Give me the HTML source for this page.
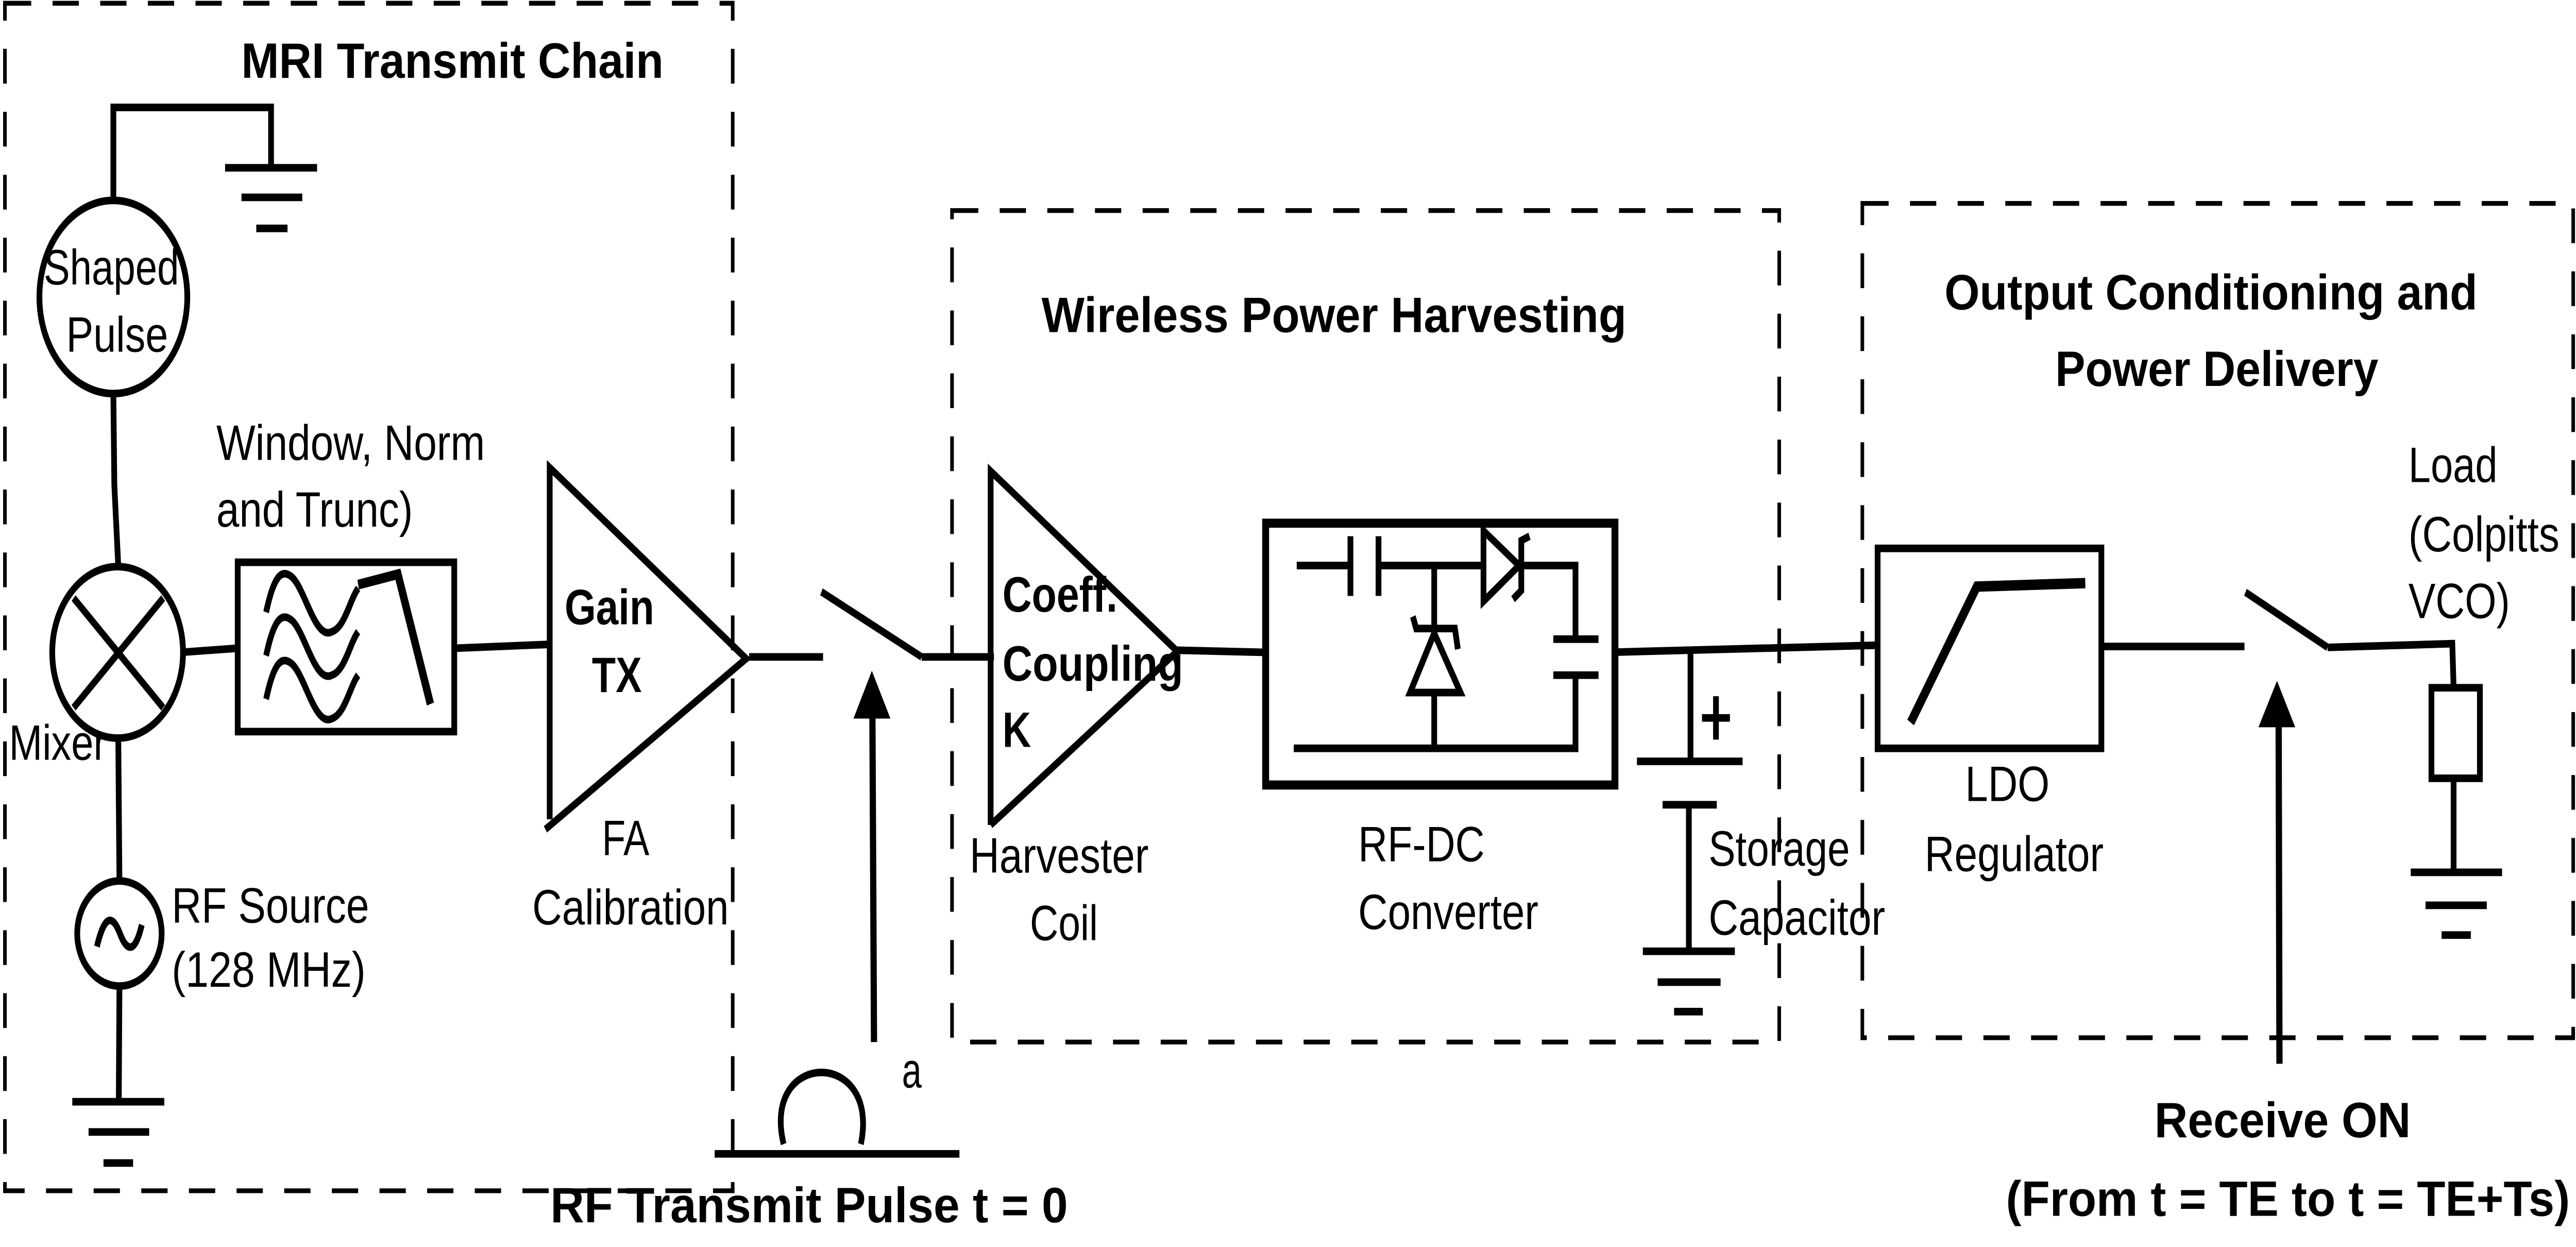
<!DOCTYPE html>
<html><head><meta charset="utf-8"><style>
html,body{margin:0;padding:0;background:#fff;width:100%;height:100%;overflow:hidden;}
svg{display:block;width:100vw;height:100vh;}
text{font-family:"Liberation Sans",Arial,sans-serif;fill:#000;}
.b{font-weight:bold;}
.n{font-family:"Liberation Sans Narrow","Liberation Sans",sans-serif;}
</style></head><body>
<svg xmlns="http://www.w3.org/2000/svg" viewBox="0 0 1568 574.4" preserveAspectRatio="none">
<rect x="0" y="0" width="1568" height="574.4" fill="#fff"/>
<g fill="none" stroke="#000" stroke-width="2.2" stroke-dasharray="16 13">
<rect x="3" y="1.5" width="443" height="547"/>
<rect x="579.5" y="97" width="503.5" height="383"/>
<rect x="1133.6" y="93.7" width="432.7" height="384.3"/>
</g>
<g fill="none" stroke="#000" stroke-width="3.5" stroke-linejoin="miter">
<polyline points="69,92 69,49.5 165,49.5 165,77.3"/>
<line x1="137" y1="77.3" x2="193" y2="77.3"/>
<line x1="147" y1="90.9" x2="184" y2="90.9"/>
<line x1="156" y1="105.2" x2="175" y2="105.2"/>
<ellipse cx="69" cy="136.8" rx="45" ry="44.5"/>
<polyline points="69,181.3 69.6,223.5 72,261"/>
<ellipse cx="71.6" cy="300.5" rx="39.8" ry="39.5"/>
<line x1="44.8" y1="275.5" x2="99.3" y2="326"/>
<line x1="44.8" y1="326" x2="99.3" y2="275.5"/>
<line x1="111.4" y1="300.4" x2="144.7" y2="298.6"/>
<rect x="144.7" y="259" width="131.8" height="78"/>
<path d="M162,282 C167,264 172,262 178,266 C186,272 192,295 202,291 C210,289 213,276 218,271"/>
<path d="M162,302 C167,284 172,282 178,286 C186,292 192,315 202,311 C210,309 213,296 218,291"/>
<path d="M162,322 C167,304 172,302 178,306 C186,312 192,335 202,331 C210,329 213,316 218,311"/>
<polyline points="218,269.3 242.2,264.5 262,324.3" stroke-width="4.5"/>
<line x1="276.5" y1="298.6" x2="334.6" y2="296.8"/>
<polyline points="334.6,377.4 334.6,215.4 454.2,303.4 332,382"/>
<line x1="72" y1="340" x2="72.7" y2="406"/>
<ellipse cx="72.7" cy="430" rx="25.7" ry="24.2"/>
<path d="M59,436 C64,420 69,422 73,430 C77,438 82,440 86.3,426"/>
<line x1="72.7" y1="454.3" x2="72.3" y2="507.5"/>
<line x1="44" y1="507.5" x2="100" y2="507.5"/>
<line x1="53.9" y1="521.4" x2="90.8" y2="521.4"/>
<line x1="63" y1="535.7" x2="81" y2="535.7"/>
<line x1="456" y1="302.6" x2="501" y2="302.6"/>
<line x1="500" y1="272.6" x2="561" y2="302.6"/>
<line x1="561" y1="302.6" x2="605" y2="302.6"/>
<line x1="532" y1="480" x2="531" y2="325" stroke-width="3.8"/>
<path d="M477,527 C470,505 485,494 500,494 C515,494 530,505 524,527"/>
<line x1="435" y1="531.5" x2="584" y2="531.5"/>
<polyline points="603,380 603,217 716.6,300 603,380"/>
<line x1="716.6" y1="299.5" x2="770.4" y2="300.5"/>
<rect x="770.4" y="241" width="212.6" height="120.6" stroke-width="4.2"/>
<line x1="789.3" y1="260.5" x2="822" y2="260.5"/>
<line x1="822" y1="247" x2="822" y2="274.5"/>
<line x1="839.1" y1="247" x2="839.1" y2="274.5"/>
<line x1="839.1" y1="260.5" x2="903" y2="260.5"/>
<polygon points="903,244.5 903,277 924.7,260.5"/>
<polyline points="931,247 926,249 926,272 921,276"/>
<polyline points="926,260.5 959,260.5 959,294.4"/>
<line x1="945.5" y1="294.4" x2="973" y2="294.4"/>
<line x1="945.5" y1="311" x2="973" y2="311"/>
<polyline points="959,311 959,344.7 787.5,344.7"/>
<line x1="873" y1="260.5" x2="873" y2="289.5"/>
<polygon points="873,291.7 858.3,319 889,319"/>
<polyline points="860,284 862,289.5 885.6,289.5 887.4,299"/>
<line x1="873" y1="319" x2="873" y2="344.7"/>
<line x1="983" y1="300.4" x2="1142.9" y2="297.2"/>
<line x1="1029" y1="300.5" x2="1029" y2="350.7"/>
<line x1="996.4" y1="350.7" x2="1060.7" y2="350.7"/>
<line x1="1036" y1="330.7" x2="1053" y2="330.7"/>
<line x1="1044.5" y1="320.7" x2="1044.5" y2="340.7"/>
<line x1="1012" y1="370.7" x2="1045" y2="370.7"/>
<line x1="1028" y1="370.7" x2="1028" y2="438.2"/>
<line x1="1000" y1="438.2" x2="1056" y2="438.2"/>
<line x1="1009" y1="452.4" x2="1047.3" y2="452.4"/>
<line x1="1019" y1="466" x2="1036.5" y2="466"/>
<rect x="1142.9" y="252.6" width="136.2" height="92.1"/>
<polyline points="1163,332.8 1203.3,270.2 1269.3,268.6" stroke-width="4.8"/>
<line x1="1279.1" y1="297.8" x2="1366.2" y2="297.8"/>
<line x1="1366.8" y1="272.8" x2="1416.8" y2="298.2"/>
<polyline points="1416.8,298.2 1492.7,296.5 1493.5,316.8"/>
<rect x="1480" y="316.8" width="29.5" height="41.7"/>
<line x1="1493.5" y1="358.5" x2="1493.5" y2="401.8"/>
<line x1="1467.4" y1="401.8" x2="1523" y2="401.8"/>
<line x1="1476.4" y1="417" x2="1513.7" y2="417"/>
<line x1="1486.2" y1="430.7" x2="1504" y2="430.7"/>
<line x1="1387.5" y1="490" x2="1387" y2="331" stroke-width="3.8"/>
</g>
<polygon points="530.7,309 519.5,331 542,331" fill="#000"/>
<polygon points="1386,313.6 1374.7,335 1397.1,335" fill="#000"/>
<g font-size="23">
<text class="b" x="146.9" y="35.9" textLength="257" lengthAdjust="spacingAndGlyphs">MRI Transmit Chain</text>
<text x="26.6" y="131" textLength="82.4" lengthAdjust="spacingAndGlyphs">Shaped</text>
<text x="40.3" y="162" textLength="62" lengthAdjust="spacingAndGlyphs">Pulse</text>
<text x="131.7" y="211.8" textLength="163.5" lengthAdjust="spacingAndGlyphs">Window, Norm</text>
<text x="131.7" y="242.6" textLength="119.6" lengthAdjust="spacingAndGlyphs">and Trunc)</text>
<text x="5.5" y="350" textLength="59.5" lengthAdjust="spacingAndGlyphs">Mixer</text>
<text class="b" x="343.7" y="287.6" textLength="54.5" lengthAdjust="spacingAndGlyphs">Gain</text>
<text class="b" x="360.3" y="318.8" textLength="30.3" lengthAdjust="spacingAndGlyphs">TX</text>
<text x="366.4" y="393.9" textLength="28.8" lengthAdjust="spacingAndGlyphs">FA</text>
<text x="324" y="425.8" textLength="119.6" lengthAdjust="spacingAndGlyphs">Calibration</text>
<text x="104.5" y="425" textLength="120.2" lengthAdjust="spacingAndGlyphs">RF Source</text>
<text x="104.5" y="454.5" textLength="118.1" lengthAdjust="spacingAndGlyphs">(128 MHz)</text>
<text x="549" y="501" textLength="12" lengthAdjust="spacingAndGlyphs">a</text>
<text class="b" x="335" y="563" textLength="315" lengthAdjust="spacingAndGlyphs">RF Transmit Pulse t = 0</text>
<text class="b" x="634" y="153" textLength="356" lengthAdjust="spacingAndGlyphs">Wireless Power Harvesting</text>
<text class="b n" x="610.2" y="281.7" textLength="70" lengthAdjust="spacingAndGlyphs">Coeff.</text>
<text class="b n" x="610.2" y="313.5" textLength="110" lengthAdjust="spacingAndGlyphs">Coupling</text>
<text class="b n" x="610.2" y="344" textLength="17.4" lengthAdjust="spacingAndGlyphs">K</text>
<text class="n" x="590.2" y="402" textLength="109" lengthAdjust="spacingAndGlyphs">Harvester</text>
<text class="n" x="626.9" y="433" textLength="41.4" lengthAdjust="spacingAndGlyphs">Coil</text>
<text class="n" x="826.7" y="396.7" textLength="77" lengthAdjust="spacingAndGlyphs">RF-DC</text>
<text class="n" x="826.7" y="428" textLength="109.7" lengthAdjust="spacingAndGlyphs">Converter</text>
<text class="n" x="1040" y="398.8" textLength="86" lengthAdjust="spacingAndGlyphs">Storage</text>
<text class="n" x="1040" y="430.6" textLength="107.5" lengthAdjust="spacingAndGlyphs">Capacitor</text>
<text class="b" x="1183.6" y="142.5" textLength="324.4" lengthAdjust="spacingAndGlyphs">Output Conditioning and</text>
<text class="b" x="1251" y="177.8" textLength="196.7" lengthAdjust="spacingAndGlyphs">Power Delivery</text>
<text x="1466" y="222" textLength="54.2" lengthAdjust="spacingAndGlyphs">Load</text>
<text x="1466" y="254" textLength="91.9" lengthAdjust="spacingAndGlyphs">(Colpitts</text>
<text x="1466" y="284.7" textLength="61.8" lengthAdjust="spacingAndGlyphs">VCO)</text>
<text x="1196.2" y="369" textLength="51.4" lengthAdjust="spacingAndGlyphs">LDO</text>
<text x="1171.5" y="401.2" textLength="109" lengthAdjust="spacingAndGlyphs">Regulator</text>
<text class="b" x="1311.4" y="523.8" textLength="156" lengthAdjust="spacingAndGlyphs">Receive ON</text>
<text class="b" x="1221" y="560" textLength="343.3" lengthAdjust="spacingAndGlyphs">(From t = TE to t = TE+Ts)</text>
</g>
</svg>
</body></html>
